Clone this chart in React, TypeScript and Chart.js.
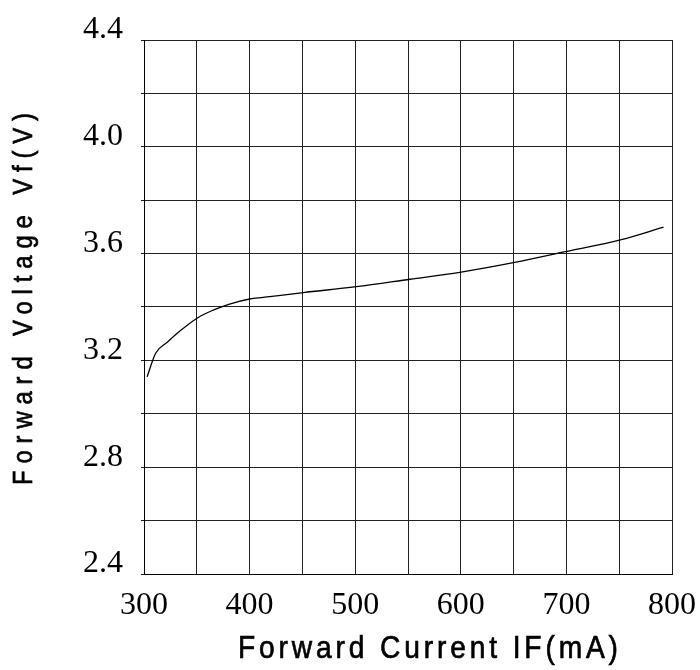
import React, { useEffect, useRef } from "react";
import { Chart, registerables } from "chart.js";

Chart.register(...registerables);

const currentMA = [303, 311, 322, 334, 351, 366, 381, 400, 419, 451, 501, 552, 599, 651, 699, 751, 792];
const voltageV = [3.139, 3.227, 3.268, 3.31, 3.36, 3.389, 3.411, 3.43, 3.439, 3.454, 3.476, 3.504, 3.53, 3.567, 3.607, 3.651, 3.699];
const xTickLabels = ["300", "400", "500", "600", "700", "800"];
const yTickLabels = ["2.4", "2.8", "3.2", "3.6", "4.0", "4.4"];
const xTitle = "Forward Current IF(mA)";
const yTitle = "Forward Voltage Vf(V)";

const titlePlugin = {
  id: "spacedTitles",
  afterDraw(chart: any) {
    const { ctx, chartArea } = chart;
    const family = "'Liberation Sans', Arial, sans-serif";
    const squeeze = 0.88;
    const drawSpaced = (text: string, size: number, targetWidth: number) => {
      ctx.font = `${size}px ${family}`;
      ctx.scale(squeeze, 1);
      const w0 = ctx.measureText(text).width * squeeze;
      const canSpace = "letterSpacing" in ctx;
      if (canSpace) {
        const sp = Math.max(0, (targetWidth - w0) / (text.length - 1)) / squeeze;
        ctx.letterSpacing = `${sp}px`;
      } else {
        ctx.font = `${(size * targetWidth) / w0}px ${family}`;
      }
      ctx.textAlign = "left";
      ctx.textBaseline = "alphabetic";
      ctx.lineWidth = 0.7;
      ctx.strokeStyle = "#000";
      ctx.fillText(text, 0, 0);
      ctx.strokeText(text, 0, 0);
      if (canSpace) ctx.letterSpacing = "0px";
    };
    ctx.save();
    ctx.fillStyle = "#000";
    ctx.save();
    ctx.translate(chartArea.left + 94, chartArea.bottom + 84);
    drawSpaced(xTitle, 32, 380);
    ctx.restore();
    ctx.save();
    ctx.translate(chartArea.left - 112, chartArea.bottom - 89);
    ctx.rotate(-Math.PI / 2);
    drawSpaced(yTitle, 27, 372);
    ctx.restore();
    ctx.restore();
  },
};

export default function App() {
  const ref = useRef<HTMLCanvasElement | null>(null);
  useEffect(() => {
    if (!ref.current) return;
    const chart = new Chart(ref.current, {
      type: "line",
      data: {
        datasets: [
          {
            data: currentMA.map((x, i) => ({ x, y: voltageV[i] })),
            borderColor: "#000",
            borderWidth: 1.3,
            pointRadius: 0,
            cubicInterpolationMode: "monotone",
            fill: false,
          },
        ],
      },
      plugins: [titlePlugin],
      options: {
        responsive: false,
        animation: false,
        layout: { padding: { top: 40, right: 28, left: 0, bottom: 0 } },
        plugins: { legend: { display: false }, tooltip: { enabled: false } },
        scales: {
          x: {
            type: "linear",
            min: 300,
            max: 800,
            afterFit: (s: any) => {
              s.height = 96;
              s.paddingLeft = 0;
              s.paddingRight = 0;
            },
            ticks: {
              stepSize: 50,
              autoSkip: false,
              maxRotation: 0,
              padding: 12,
              color: "#000",
              font: { family: "'Liberation Serif', 'Times New Roman', serif", size: 32 },
              callback: (v: any) => {
                const s = String(v);
                return xTickLabels.includes(s) ? s : "";
              },
            },
            grid: { color: "#222", lineWidth: 1, drawTicks: false },
            border: { color: "#000", width: 1 },
            title: { display: false },
          },
          y: {
            type: "linear",
            min: 2.4,
            max: 4.4,
            afterFit: (s: any) => {
              s.width = 144;
              s.paddingTop = 0;
              s.paddingBottom = 0;
            },
            ticks: {
              stepSize: 0.2,
              autoSkip: false,
              padding: 18,
              labelOffset: -10,
              color: "#000",
              font: { family: "'Liberation Serif', 'Times New Roman', serif", size: 32 },
              callback: (v: any) => {
                const s = Number(v).toFixed(1);
                return yTickLabels.includes(s) ? s : "";
              },
            },
            grid: { color: "#222", lineWidth: 1, drawTicks: true, tickLength: 3 },
            border: { color: "#000", width: 1 },
            title: { display: false },
          },
        },
      },
    });
    return () => chart.destroy();
  }, []);
  return (
    <div style={{ position: "absolute", left: 0, top: 0, width: 700, height: 670, background: "#fff" }}>
      <canvas ref={ref} width={700} height={670} style={{ display: "block" }} />
    </div>
  );
}
